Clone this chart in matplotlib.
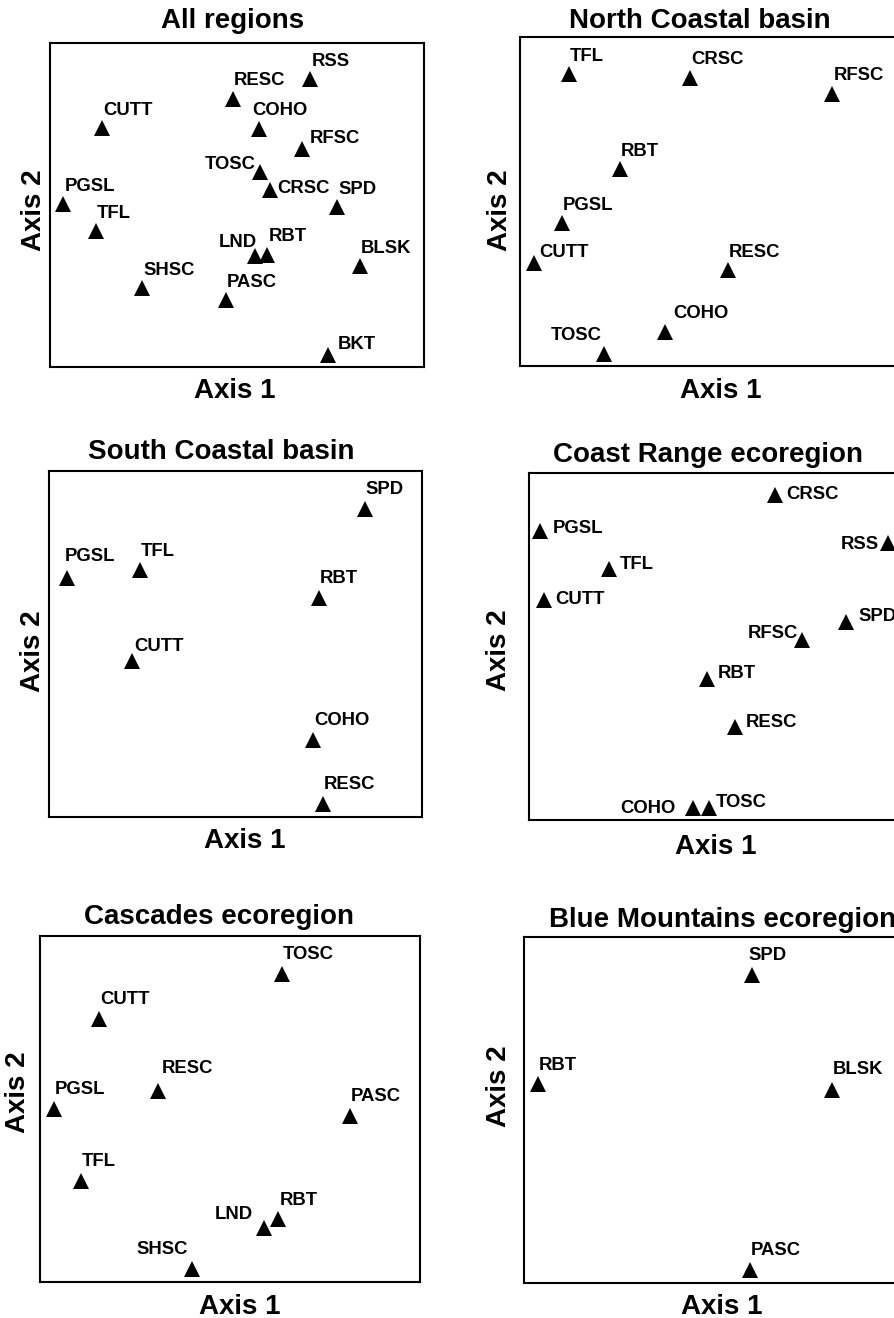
import matplotlib
matplotlib.use("Agg")
import matplotlib.pyplot as plt

plt.rcParams["font.family"] = ["Liberation Sans", "DejaVu Sans"]
plt.rcParams["font.weight"] = "bold"

# Species scores on the first two ordination axes (each panel's frame spans 0-1)
all_species = ["RSS", "RESC", "CUTT", "COHO", "RFSC", "TOSC", "CRSC", "SPD",
               "PGSL", "TFL", "LND", "RBT", "BLSK", "SHSC", "PASC", "BKT"]
all_ax1 = [0.695, 0.488, 0.139, 0.558, 0.673, 0.561, 0.588, 0.768,
           0.036, 0.123, 0.549, 0.581, 0.829, 0.247, 0.470, 0.742]
all_ax2 = [0.889, 0.828, 0.737, 0.734, 0.673, 0.601, 0.546, 0.493,
           0.502, 0.421, 0.342, 0.347, 0.311, 0.243, 0.206, 0.038]

north_species = ["TFL", "CRSC", "RFSC", "RBT", "PGSL", "CUTT", "RESC", "COHO", "TOSC"]
north_ax1 = [0.130, 0.453, 0.831, 0.265, 0.111, 0.038, 0.553, 0.385, 0.223]
north_ax2 = [0.887, 0.876, 0.826, 0.600, 0.435, 0.313, 0.293, 0.104, 0.037]

south_species = ["SPD", "PGSL", "TFL", "RBT", "CUTT", "COHO", "RESC"]
south_ax1 = [0.847, 0.049, 0.243, 0.724, 0.223, 0.709, 0.735]
south_ax2 = [0.889, 0.692, 0.715, 0.633, 0.451, 0.222, 0.039]

coast_species = ["CRSC", "PGSL", "RSS", "TFL", "CUTT", "SPD", "RFSC",
                 "RBT", "RESC", "COHO", "TOSC"]
coast_ax1 = [0.653, 0.030, 0.956, 0.212, 0.041, 0.844, 0.727,
             0.473, 0.549, 0.436, 0.479]
coast_ax2 = [0.938, 0.832, 0.798, 0.724, 0.633, 0.571, 0.518,
             0.406, 0.269, 0.036, 0.036]

casc_species = ["TOSC", "CUTT", "RESC", "PGSL", "PASC", "TFL", "RBT", "LND", "SHSC"]
casc_ax1 = [0.637, 0.156, 0.310, 0.036, 0.816, 0.107, 0.627, 0.589, 0.400]
casc_ax2 = [0.890, 0.760, 0.553, 0.499, 0.481, 0.292, 0.183, 0.156, 0.038]

blue_species = ["SPD", "RBT", "BLSK", "PASC"]
blue_ax1 = [0.607, 0.036, 0.818, 0.601]
blue_ax2 = [0.889, 0.576, 0.559, 0.039]

titles = ["All regions", "North Coastal basin", "South Coastal basin",
          "Coast Range ecoregion", "Cascades ecoregion", "Blue Mountains ecoregion"]

FIG_W, FIG_H, DPI = 894, 1318, 100

# Label placement: (dx px, dy px to baseline, horizontal alignment); default above-right
DEFAULT_PLACE = (1, 13, "left")
label_place = [
    {"RSS": (2, 13, "left"), "RESC": (1, 14, "left"), "COHO": (-6, 14, "left"),
     "RFSC": (8, 6, "left"), "TOSC": (-4, 3, "right"), "CRSC": (7, -3, "left"),
     "LND": (2, 9, "right"), "RBT": (1, 14, "left"), "BKT": (10, 6, "left")},
    {"CRSC": (1, 14, "left"), "RFSC": (1, 14, "left"), "CUTT": (5, 6, "left"),
     "COHO": (8, 14, "left"), "TOSC": (-2, 14, "right")},
    {"SPD": (1, 15, "left"), "PGSL": (-3, 17, "left"), "TFL": (1, 14, "left"),
     "RBT": (1, 15, "left"), "CUTT": (2, 10, "left"), "COHO": (1, 15, "left"),
     "RESC": (1, 15, "left")},
    {"CRSC": (12, -4, "left"), "PGSL": (12, -2, "left"), "RSS": (-10, -6, "right"),
     "TFL": (11, 0, "left"), "CUTT": (11, -4, "left"), "SPD": (12, 1, "left"),
     "RFSC": (-4, 2, "right"), "RBT": (11, 1, "left"), "RESC": (10, 0, "left"),
     "COHO": (-17, -5, "right"), "TOSC": (7, 1, "left")},
    {"TOSC": (1, 15, "left"), "CUTT": (1, 15, "left"), "RESC": (4, 18, "left"),
     "PGSL": (1, 15, "left"), "PASC": (1, 15, "left"), "TFL": (1, 15, "left"),
     "RBT": (1, 14, "left"), "LND": (-11, 9, "right"), "SHSC": (-4, 15, "right")},
    {"SPD": (-4, 15, "left"), "RBT": (1, 14, "left"), "BLSK": (1, 16, "left"),
     "PASC": (1, 15, "left")},
]

# Frame of each panel in pixels: left, top, right, bottom
frames = [(50, 43, 424, 367), (520, 37, 896, 366),
          (49, 471, 422, 817), (529, 473, 905, 820),
          (40, 936, 420, 1282), (524, 937, 900, 1283)]
# title: (x frac, gap px above frame, ha); xlabel: (x frac, baseline px below); ylabel: (x frac, y frac)
title_pos = [(0.487, 15, "center"), (0.479, 9, "center"), (0.463, 12, "center"),
             (0.475, 11, "center"), (0.470, 12, "center"), (0.067, 10, "left")]
xlabel_pos = [(0.495, 31), (0.534, 32), (0.526, 31), (0.498, 34), (0.525, 32), (0.527, 31)]
ylabel_pos = [(-0.043, 0.485), (-0.053, 0.474), (-0.044, 0.479),
              (-0.080, 0.49), (-0.059, 0.55), (-0.066, 0.57)]

data = [(all_species, all_ax1, all_ax2), (north_species, north_ax1, north_ax2),
        (south_species, south_ax1, south_ax2), (coast_species, coast_ax1, coast_ax2),
        (casc_species, casc_ax1, casc_ax2), (blue_species, blue_ax1, blue_ax2)]

fig = plt.figure(figsize=(FIG_W / DPI, FIG_H / DPI), dpi=DPI)
PT = 72.0 / DPI

for i, (names, xs, ys) in enumerate(data):
    l, t, r, b = frames[i]
    ax = fig.add_axes([l / FIG_W, 1 - b / FIG_H, (r - l) / FIG_W, (b - t) / FIG_H])
    h_px = b - t
    ax.set_xlim(0, 1)
    ax.set_ylim(0, 1)
    ax.set_xticks([])
    ax.set_yticks([])
    for s in ax.spines.values():
        s.set_linewidth(1.5)
    ax.plot(xs, ys, linestyle="none", marker="^", markersize=11,
            color="black", markeredgewidth=0, clip_on=False)
    for name, x, y in zip(names, xs, ys):
        dx, dy, ha = label_place[i].get(name, DEFAULT_PLACE)
        ax.annotate(name, (x, y), xytext=(dx * PT, dy * PT), textcoords="offset points",
                    ha=ha, va="baseline", fontsize=13.3, fontweight="bold",
                    annotation_clip=False)
    tx, gap, tha = title_pos[i]
    ax.text(tx, 1 + gap / h_px, titles[i], transform=ax.transAxes, ha=tha,
            va="baseline", fontsize=20, fontweight="bold")
    xx, below = xlabel_pos[i]
    ax.text(xx, -below / h_px, "Axis 1", transform=ax.transAxes, ha="center",
            va="baseline", fontsize=20, fontweight="bold")
    yx, yy = ylabel_pos[i]
    ax.text(yx, yy, "Axis 2", transform=ax.transAxes, ha="center", va="center",
            rotation=90, fontsize=20, fontweight="bold")

fig.savefig("out.png", dpi=DPI)
